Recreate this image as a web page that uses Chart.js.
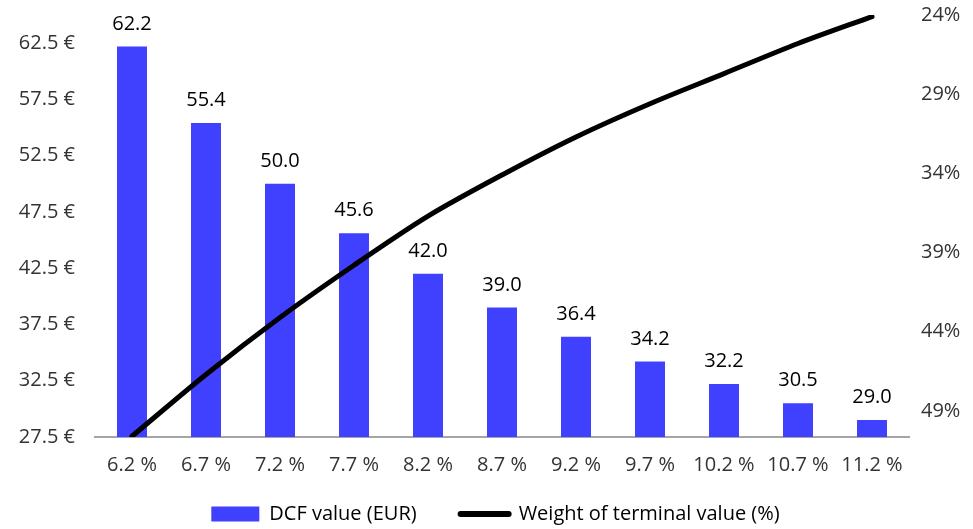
<!DOCTYPE html>
<html>
<head>
<meta charset="utf-8">
<script src="https://cdn.jsdelivr.net/npm/chart.js@4/dist/chart.umd.min.js"></script>
<style>
  html, body { margin: 0; padding: 0; background: #fff; }
  #wrap { width: 973px; height: 529px; }
</style>
</head>
<body>
<div id="wrap"><canvas id="dcf-chart"></canvas></div>
<script>
const waccLabels = ["6.2 %", "6.7 %", "7.2 %", "7.7 %", "8.2 %", "8.7 %", "9.2 %", "9.7 %", "10.2 %", "10.7 %", "11.2 %"]
const dcfValues = [62.2, 55.4, 50.0, 45.6, 42.0, 39.0, 36.4, 34.2, 32.2, 30.5, 29.0]
const terminalWeight = [50.6, 46.7, 43.1, 39.8, 36.7, 34.1, 31.7, 29.6, 27.7, 25.8, 24.1]
const euroTicks = [27.5, 32.5, 37.5, 42.5, 47.5, 52.5, 57.5, 62.5]
const weightTicks = [24, 29, 34, 39, 44, 49]

const FONT = "'Open Sans', sans-serif"
const blue = "#4040ff"

// value labels on top of the bars
const barLabels = {
  id: 'barLabels',
  afterDatasetsDraw: (chart) => {
    const {ctx} = chart
    const meta = chart.getDatasetMeta(0)
    ctx.save()
    ctx.font = "20px " + FONT
    ctx.fillStyle = '#000'
    ctx.textAlign = 'center'
    ctx.textBaseline = 'alphabetic'
    meta.data.forEach((bar, i) => {
      ctx.fillText(dcfValues[i].toFixed(1), bar.x, bar.y - 17)
    })
    ctx.restore()
  }
}

// x labels sit partly over the legend box, don't let the axis clip them
const unclipX = {
  id: 'unclipX',
  afterLayout: (chart) => {
    chart.scales.x.bottom = chart.height
  }
}

// y axes: no extra room reserved for half labels at the ends
const noEndPadding = (s) => {
  s.paddingTop = 0
  s.paddingBottom = 0
}

new Chart(document.getElementById("dcf-chart"), {
  data: {
    labels: waccLabels,
    datasets: [{
      type: 'bar',
      label: 'DCF value (EUR)',
      data: dcfValues,
      backgroundColor: blue,
      barPercentage: 0.405,
      categoryPercentage: 1,
      yAxisID: 'y',
      order: 2
    }, {
      type: 'line',
      label: 'Weight of terminal value (%)',
      data: terminalWeight,
      borderColor: '#000',
      backgroundColor: '#000',
      borderWidth: 5,
      borderCapStyle: 'round',
      pointRadius: 0,
      tension: 0.3,
      yAxisID: 'y1',
      order: 1
    }]
  },
  options: {
    responsive: true,
    maintainAspectRatio: false,
    animation: false,
    layout: {
      padding: {top: 15, bottom: -5, left: 18, right: 0}
    },
    plugins: {
      tooltip: {enabled: false},
      legend: {
        position: 'bottom',
        labels: {
          usePointStyle: true,
          pointStyleWidth: 48,
          boxHeight: 15,
          padding: 44,
          color: '#000',
          font: {family: FONT, size: 20},
          sort: (a, b) => a.datasetIndex - b.datasetIndex,
          generateLabels: (chart) => {
            const items = Chart.defaults.plugins.legend.labels.generateLabels(chart)
            items.forEach((item) => {
              if (item.datasetIndex === 0) {
                item.pointStyle = 'rect'
                item.lineWidth = 0
              } else {
                item.pointStyle = 'line'
                item.lineWidth = 6
                item.lineCap = 'round'
                item.strokeStyle = '#000'
              }
            })
            return items
          }
        }
      }
    },
    scales: {
      x: {
        grid: {display: false, drawTicks: false},
        border: {color: '#a2a6aa', width: 2},
        ticks: {color: '#333', padding: 16, font: {family: FONT, size: 20}, maxRotation: 0},
        afterFit: (s) => { s.height = 23 }
      },
      y: {
        position: 'left',
        min: 27.5,
        max: 65,
        grid: {display: false, drawTicks: false},
        border: {display: false},
        ticks: {
          color: '#333',
          padding: 20,
          font: {family: FONT, size: 20},
          callback: (v) => v.toFixed(1) + ' €'
        },
        afterBuildTicks: (s) => { s.ticks = euroTicks.map(v => ({value: v})) },
        afterFit: (s) => {
          s.width = 77
          noEndPadding(s)
        }
      },
      y1: {
        position: 'right',
        reverse: true,
        min: 24,
        max: 50.65,
        grid: {display: false, drawTicks: false},
        border: {display: false},
        ticks: {
          color: '#333',
          padding: 12,
          font: {family: FONT, size: 20},
          callback: (v) => v + '%'
        },
        afterBuildTicks: (s) => { s.ticks = weightTicks.map(v => ({value: v})) },
        afterFit: (s) => {
          s.width = 64
          noEndPadding(s)
        }
      }
    }
  },
  plugins: [barLabels, unclipX]
})
</script>
</body>
</html>
